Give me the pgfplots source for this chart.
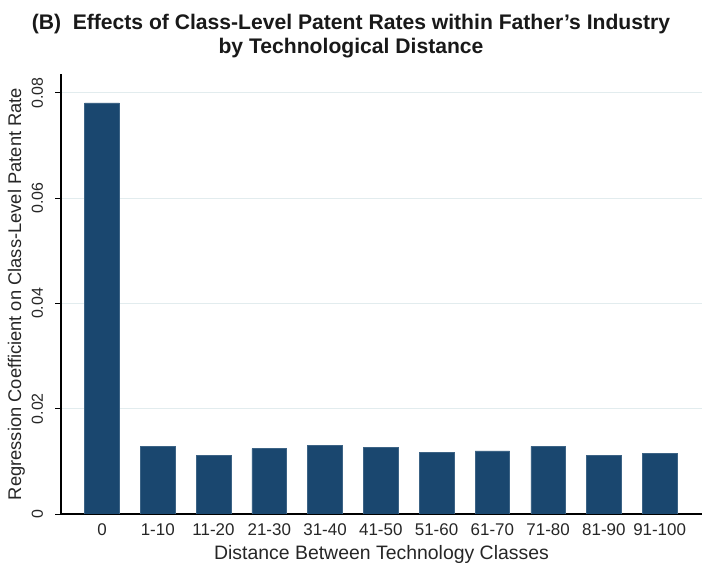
\documentclass[border=0pt]{standalone}
\usepackage{fontspec}
\setmainfont{Liberation Sans}
\usepackage{pgfplots}
\pgfplotsset{compat=1.18}
\definecolor{barnavy}{RGB}{26,71,111}
\definecolor{gridc}{RGB}{226,236,238}
\begin{document}
\begin{tikzpicture}
\path[use as bounding box] (0,0) rectangle (717bp,581bp);
\begin{axis}[
  at={(61bp,67bp)}, anchor=south west,
  scale only axis, width=641bp, height=440bp,
  xmin=-0.735, xmax=10.76, ymin=0, ymax=0.0836,
  axis lines=left,
  axis line style={-, black, line width=1.3bp},
  ybar, bar width=0.62,
  scaled y ticks=false,
  xtick={0,1,2,3,4,5,6,7,8,9,10},
  xticklabels={0,1-10,11-20,21-30,31-40,41-50,51-60,61-70,71-80,81-90,91-100},
  ytick={0,0.02,0.04,0.06,0.08},
  yticklabels={0,0.02,0.04,0.06,0.08},
  x tick style={draw=none},
  y tick style={black, line width=1bp},
  tick align=outside, major tick length=6bp,
  ymajorgrids, major grid style={gridc, line width=1bp},
  xticklabel style={font=\fontsize{17}{20}\selectfont, text=black!85},
  yticklabel style={xshift=-12bp, rotate=90, anchor=base, font=\fontsize{16}{19}\selectfont, text=black!85},
  every axis x label/.style={at={(axis description cs:0.5,-0.1023)}, anchor=base, font=\fontsize{19.5}{22}\selectfont, text=black!85},
  every axis y label/.style={at={(axis description cs:-0.0624,0.5)}, rotate=90, anchor=base, font=\fontsize{18.4}{22}\selectfont, text=black!85},
  xlabel={Distance Between Technology Classes},
  ylabel={Regression Coefficient on Class-Level Patent Rate},
]
\addplot[fill=barnavy, draw=barnavy!85!white, line width=0.6bp] coordinates {
  (0,0.0781) (1,0.0129) (2,0.01115) (3,0.0124) (4,0.01305) (5,0.01267)
  (6,0.01177) (7,0.0120) (8,0.01285) (9,0.01115) (10,0.01152)
};
\end{axis}
\node[anchor=base, font=\bfseries\fontsize{21.2}{24}\selectfont, text=black!90] at (351bp,551bp) {(B)\hspace{0.55em}Effects of Class-Level Patent Rates within Father’s Industry};
\node[anchor=base, font=\bfseries\fontsize{21.2}{24}\selectfont, text=black!90] at (351bp,527.5bp) {by Technological Distance};
\end{tikzpicture}
\end{document}
